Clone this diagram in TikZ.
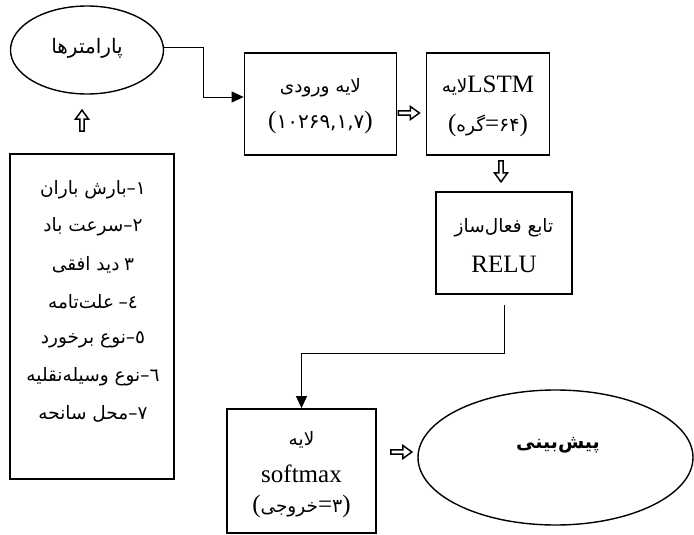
\documentclass[tikz,border=0pt]{standalone}
\usepackage{fontspec}
\setmainfont{Liberation Serif}
\newfontfamily\fa[Script=Arabic]{DejaVu Sans}
\newcommand\pfa{\fa\fontsize{18.5}{21}\selectfont}
\TeXXeTstate=1
\usetikzlibrary{shapes.geometric,arrows.meta,calc}
\begin{document}
\begin{tikzpicture}[x=1pt,y=-1pt,
  box/.style={draw,line width=1.8pt,inner sep=0pt},
  ell/.style={ellipse,draw,line width=1.4pt,inner sep=0pt},
  lat/.style={inner sep=0pt,font=\fontsize{25}{28}\selectfont},
  fat/.style={inner sep=0pt,font=\pfa},
  conn/.style={line width=0.9pt},
  tip/.style={-{Triangle[length=12pt,width=11pt]}},
  harrow/.pic={\draw[line width=1.5pt,line join=miter]
     (0,-2.2) -- (12,-2.2) -- (12,-6.5) -- (21,0) -- (12,6.5) -- (12,2.2) -- (0,2.2) -- cycle;}]
\useasboundingbox (0,0) rectangle (694,535);
% shapes
\node[ell,minimum width=153pt,minimum height=88pt] (params) at (87,50) {};
\node[box,minimum width=152pt,minimum height=102pt] (input) at (320.5,104) {};
\node[box,minimum width=123pt,minimum height=102pt] (lstm) at (488,104) {};
\node[box,minimum width=136pt,minimum height=102pt] (relu) at (504,243) {};
\node[box,minimum width=164pt,minimum height=325pt] (list) at (92,316.5) {};
\node[box,minimum width=149pt,minimum height=124pt] (soft) at (301.5,471) {};
\node[ell,minimum width=275pt,minimum height=135pt] (pred) at (555.5,457.5) {};
% texts
\node[fat,font=\fa\fontsize{20}{22}\selectfont] (paramsT) at (87,48) {\beginR پارامترها\endR};
\node[fat] (inputT1) at (320.5,88) {\beginR لایه ورودی\endR};
\node[lat] (inputT2) at (320.5,122) {(\hbox{\fa\fontsize{20}{22}\selectfont ۱۰۲۶۹,۱,۷})};
\node[lat] (lstmT1) at (488,86) {\hbox{\pfa\beginR لایه\endR}LSTM};
\node[lat] (lstmT2) at (488,125) {(\hbox{\pfa\beginR گره\endR}=\hbox{\fa\fontsize{19}{22}\selectfont ۶۴})};
\node[fat] (reluT1) at (504,228) {\beginR تابع فعال‌ساز\endR};
\node[lat] (reluT2) at (504,264) {RELU};
\node[fat] (softT1) at (301.5,440) {\beginR لایه\endR};
\node[lat] (softT2) at (301.5,474) {softmax};
\node[lat] (softT3) at (301.5,506) {(\hbox{\pfa\beginR خروجی\endR}=\hbox{\fa\fontsize{19}{22}\selectfont ۳})};
\node[fat,font=\fa\bfseries\fontsize{19}{21}\selectfont] (predT) at (558,445) {\beginR پیش‌بینی\endR};
\node[fat] (l1) at (93,190) {\hbox{\beginR بارش باران\endR}\hbox{–}\hbox{۱}};
\node[fat] (l2) at (93,227) {\hbox{\beginR سرعت باد\endR}\hbox{–}\hbox{۲}};
\node[fat] (l3) at (93,265) {\hbox{\beginR دید افقی\endR}\hspace{0.25em}\hbox{۳}};
\node[fat] (l4) at (93,302) {\hbox{\beginR علت‌تامه\endR}\hspace{0.25em}\hbox{–}\hbox{٤}};
\node[fat] (l5) at (93,340) {\hbox{\beginR نوع برخورد\endR}\hbox{–}\hbox{٥}};
\node[fat] (l6) at (93,377) {\hbox{\beginR نوع وسیله‌نقلیه\endR}\hbox{–}\hbox{٦}};
\node[fat] (l7) at (93,414) {\hbox{\beginR محل سانحه\endR}\hbox{–}\hbox{۷}};
% connectors
\coordinate (pA) at ([yshift=3pt]params.east);
\coordinate (bend) at (203,0);
\coordinate (inA) at ([yshift=7pt]input.west);
\draw[conn,tip] (pA) -- (bend |- pA) -- (bend |- inA) -- (inA);
\pic at ($(input.east)+(1,9)$) {harrow};
\pic[rotate=-90] at ($(lstm.south)+(13,5)$) {harrow};
\pic[rotate=90] at ($(list.north)+(-10,-22)$) {harrow};
\pic at ($(soft.east)+(14,-19)$) {harrow};
\coordinate (rA) at ([yshift=-10pt]relu.south);
\draw[conn,tip] (rA) -- ++(0,49) -| (soft.north);
\end{tikzpicture}
\end{document}
